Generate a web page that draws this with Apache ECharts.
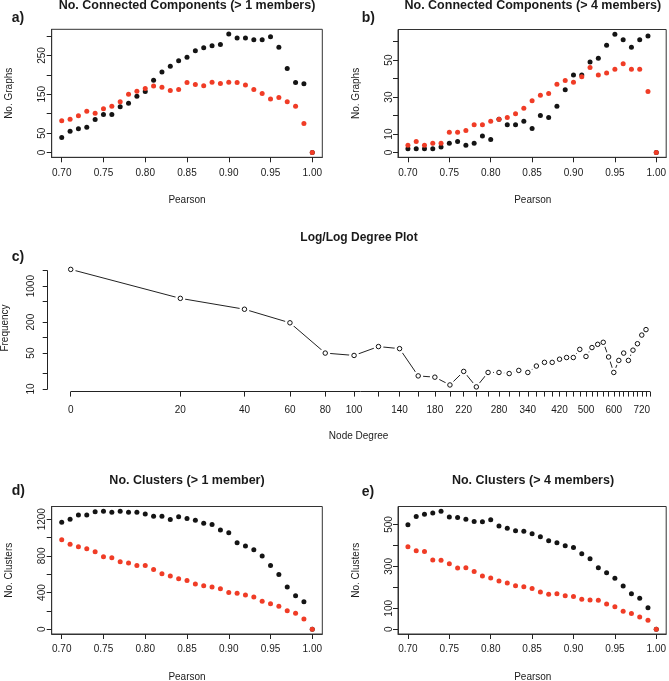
<!DOCTYPE html>
<html><head><meta charset="utf-8">
<script src="https://cdn.jsdelivr.net/npm/echarts@6/dist/echarts.min.js"></script>
<style>html,body{margin:0;padding:0;background:#fff}#c{width:669px;height:681px}</style>
</head><body><div id="c"></div>
<script>
// ---------- data ----------
const pearson = [0.70,0.71,0.72,0.73,0.74,0.75,0.76,0.77,0.78,0.79,0.80,0.81,0.82,0.83,0.84,0.85,0.86,0.87,0.88,0.89,0.90,0.91,0.92,0.93,0.94,0.95,0.96,0.97,0.98,0.99,1.00];
// a) No. Connected Components (> 1 members)
const aBlack = [39,55,61,65,85,98,98,118,127,145,157,186,207,222,236,245,262,270,275,278,305,295,295,290,290,298,271,216,180,177,0];
const aRed   = [82,86,95,106,101,113,119,131,150,158,165,171,168,160,162,180,175,172,181,178,181,180,174,162,152,138,142,131,119,75,0];
// b) No. Connected Components (> 4 members)
const bBlack = [2,2,2,2,3,5,6,4,5,9,7,18,15,15,17,13,20,19,25,34,42,42,49,51,58,64,61,57,61,63,0];
const bRed   = [4,6,4,5,5,11,11,12,15,15,17,18,19,21,24,28,31,32,37,39,38,41,46,42,43,45,48,45,45,33,0];
// d) No. Clusters (> 1 member)
const dBlack = [1168,1200,1247,1247,1280,1287,1276,1287,1276,1276,1258,1233,1233,1197,1226,1207,1189,1157,1142,1081,1052,943,907,867,798,696,598,461,366,301,0];
const dRed   = [975,928,899,877,845,790,780,736,722,696,696,653,606,580,551,533,493,475,461,442,402,392,373,352,305,279,250,203,174,112,0];
// e) No. Clusters (> 4 members)
const eBlack = [498,538,549,555,563,536,533,525,514,513,522,492,482,470,468,455,441,422,413,398,390,360,336,294,270,243,206,170,148,103,0];
const eRed   = [394,375,371,330,329,313,292,294,276,254,244,230,221,208,203,195,178,167,170,160,156,143,140,138,121,108,86,75,59,43,0];
// c) Log/Log Degree Plot
const degree = [0,20,40,60,80,100,120,140,160,180,200,220,240,260,280,300,320,340,360,380,400,420,440,460,480,500,520,540,560,580,600,620,640,660,680,700,720,740];
const frequency = [2120,580,356,194,50,45,67,61,18,17,12,22,11,21,21,20,23,21,28,33,33,38,41,41,59,43,64,74,81,42,21,36,50,36,57,76,112,143];

// ---------- ticks / labels ----------
const pearsonTicks = [0.70,0.75,0.80,0.85,0.90,0.95,1.00];
const aYTicks = [0,50,100,150,200,250,300];      const aYLabels = [0,50,150,250];
const bYTicks = [0,10,20,30,40,50,60];           const bYLabels = [0,10,30,50];
const dYTicks = [0,200,400,600,800,1000,1200];   const dYLabels = [0,400,800,1200];
const eYTicks = [0,100,200,300,400,500];         const eYLabels = [0,100,300,500];
const cXTicks = [0,20,40,60,80,100,120,140,160,180,200,220,240,260,280,300,320,340,360,380,400,420,440,460,480,500,520,540,560,580,600,620,640,660,680,700,720,740,760];
const cXLabels = [0,20,40,60,80,100,140,180,220,280,340,420,500,600,720];
const cYTicks = [10,20,50,100,200,500,1000,2000];
const cYLabels = [10,50,200,1000];

// ---------- build ----------
const FONT = 'Liberation Sans, Arial, Helvetica, sans-serif';
const TXT = '#1a1a1a';
const BLACK = '#141414', RED = '#f03c26';

function ext(vals){ const lo=Math.min(...vals), hi=Math.max(...vals), e=0.04*(hi-lo); return [lo-e, hi+e]; }
const degX = d => Math.log10(d/20 + 1);

const grids = [
  {left:51.7, top:29.3, width:270.6, height:128},
  {left:398,  top:29.5, width:269.5, height:127.8},
  {left:47.7, top:264.7, width:621.9, height:126.9},
  {left:51.7, top:506.5, width:270.6, height:127.5},
  {left:398,  top:506.5, width:269.5, height:127.5}
].map((g,i)=>Object.assign({show: i!==2, borderColor:'#333', borderWidth:1}, g));

const labelStyle = {fontSize:10, color:TXT, fontFamily:FONT};
const [pxMin, pxMax] = ext(pearson);

const xAxes = [], yAxes = [], series = [];
function pearsonPanel(gi, black, red, yTicks, yLabels){
  const [ymin, ymax] = ext(black.concat(red));
  xAxes.push({gridIndex:gi, type:'value', min:pxMin, max:pxMax,
    axisLine:{show:true, onZero:false, lineStyle:{color:'#333', width:1}}, splitLine:{show:false},
    axisTick:{show:true, length:5, customValues:pearsonTicks, lineStyle:{color:'#222'}},
    axisLabel:Object.assign({customValues:pearsonTicks, margin:10.5, formatter:v=>v.toFixed(2)}, labelStyle)});
  yAxes.push({gridIndex:gi, type:'value', min:ymin, max:ymax,
    axisLine:{show:true, onZero:false, lineStyle:{color:'#333', width:1}}, splitLine:{show:false},
    axisTick:{show:true, length:5, customValues:yTicks, lineStyle:{color:'#222'}},
    axisLabel:Object.assign({customValues:yLabels, rotate:90, margin:4, formatter:v=>String(Math.round(v))}, labelStyle)});
  const idx = xAxes.length-1;
  series.push({type:'scatter', xAxisIndex:idx, yAxisIndex:idx, symbolSize:5, silent:true,
    itemStyle:{color:BLACK, opacity:1}, data:pearson.map((p,i)=>[p, black[i]])});
  series.push({type:'scatter', xAxisIndex:idx, yAxisIndex:idx, symbolSize:5, silent:true,
    itemStyle:{color:RED, opacity:1}, data:pearson.map((p,i)=>[p, red[i]])});
}
pearsonPanel(0, aBlack, aRed, aYTicks, aYLabels);
pearsonPanel(1, bBlack, bRed, bYTicks, bYLabels);

// panel c
const cx = degree.map(degX), cy = frequency.map(v=>Math.log10(v));
const [cxMin, cxMax] = ext(cx), [cyMin, cyMax] = ext(cy);
xAxes.push({gridIndex:2, type:'value', min:cxMin, max:cxMax,
  axisLine:{show:false, onZero:false}, splitLine:{show:false},
  axisTick:{show:true, length:5, customValues:cXTicks.map(degX), lineStyle:{color:'#222'}},
  axisLabel:Object.assign({customValues:cXLabels.map(degX), margin:13.5, formatter:v=>String(Math.round((Math.pow(10,v)-1)*20))}, labelStyle)});
yAxes.push({gridIndex:2, type:'value', min:cyMin, max:cyMax,
  axisLine:{show:false, onZero:false}, splitLine:{show:false},
  axisTick:{show:true, length:5, customValues:cYTicks.map(v=>Math.log10(v)), lineStyle:{color:'#222'}},
  axisLabel:Object.assign({customValues:cYLabels.map(v=>Math.log10(v)), rotate:90, margin:11.5, formatter:v=>String(Math.round(Math.pow(10,v)))}, labelStyle)});
const cData = cx.map((x,i)=>[x, cy[i]]);
series.push({type:'line', xAxisIndex:2, yAxisIndex:2, data:cData, symbol:'none', silent:true, z:2, clip:false,
  lineStyle:{color:'#222', width:1},
  markLine:{silent:true, symbol:'none', label:{show:false}, lineStyle:{color:'#222', width:1, type:'solid'},
    data:[
      [{coord:[degX(cXTicks[0]), cyMin]}, {coord:[degX(cXTicks[cXTicks.length-1]), cyMin]}],
      [{coord:[cxMin, Math.log10(cYTicks[0])]}, {coord:[cxMin, Math.log10(cYTicks[cYTicks.length-1])]}]
    ]}});
series.push({type:'scatter', xAxisIndex:2, yAxisIndex:2, data:cData, symbolSize:10, silent:true, z:3,
  itemStyle:{color:'#fff', opacity:1}});
series.push({type:'scatter', xAxisIndex:2, yAxisIndex:2, data:cData, symbolSize:4.5, silent:true, z:4,
  itemStyle:{color:'#fff', borderColor:'#111', borderWidth:1, opacity:1}});

pearsonPanel(3, dBlack, dRed, dYTicks, dYLabels);
pearsonPanel(4, eBlack, eRed, eYTicks, eYLabels);

function txt(s, x, y, size, align, bold, rot){
  return {type:'text', x:x, y:y, rotation:rot||0, silent:true,
    style:{text:s, fontSize:size, fontWeight:bold===false?'normal':'bold', fontFamily:FONT, fill:TXT, textAlign:align||'center', textVerticalAlign:'middle'}};
}
const R90 = Math.PI/2;
const graphics = [
  txt('No. Connected Components (> 1 members)', 187, 6, 12.5),
  txt('No. Connected Components (> 4 members)', 532.8, 6, 12.5),
  txt('Log/Log Degree Plot', 359, 237.5, 12),
  txt('No. Clusters (> 1 member)', 187, 481, 12.5),
  txt('No. Clusters (> 4 members)', 533, 481, 12.5),
  txt('a)', 11.7, 18.3, 14, 'left'),
  txt('b)', 361.7, 18.5, 14, 'left'),
  txt('c)', 11.7, 257.5, 14, 'left'),
  txt('d)', 11.7, 490.8, 14, 'left'),
  txt('e)', 361.7, 492.5, 14, 'left'),
  // axis titles
  txt('Pearson', 187, 200, 10, 'center', false),
  txt('Pearson', 532.8, 200, 10, 'center', false),
  txt('Pearson', 187, 677, 10, 'center', false),
  txt('Pearson', 532.8, 677, 10, 'center', false),
  txt('No. Graphs', 9.5, 93.3, 10, 'center', false, R90),
  txt('No. Graphs', 356, 93.4, 10, 'center', false, R90),
  txt('No. Clusters', 9.5, 570.3, 10, 'center', false, R90),
  txt('No. Clusters', 356, 570.3, 10, 'center', false, R90),
  txt('Frequency', 5.5, 328, 10, 'center', false, R90),
  txt('Node Degree', 358.6, 436, 10, 'center', false)
];

const chart = echarts.init(document.getElementById('c'), null, {renderer:'canvas'});
chart.setOption({
  animation:false, backgroundColor:'#fff',
  grid:grids, xAxis:xAxes, yAxis:yAxes, series:series, graphic:graphics
});
</script>
</body></html>
